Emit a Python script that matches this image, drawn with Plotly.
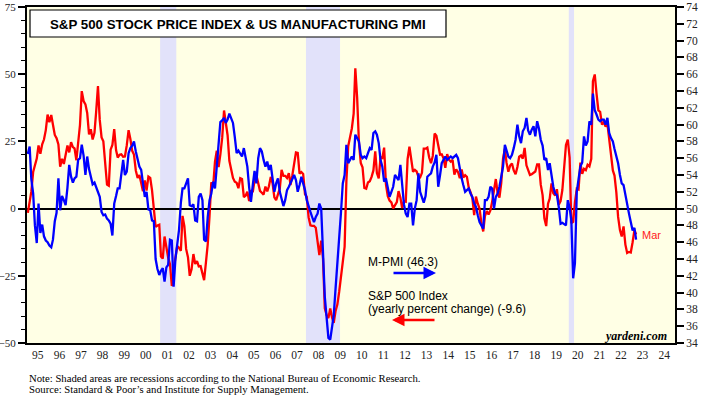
import pandas as pd
import plotly.graph_objects as go

# ---------------- data (monthly, Jan 1995 .. Mar 2023) ----------------
start_month = "1995-01-01"

# S&P 500 Index, yearly percent change (left axis)
sp500_yoy = [
    -1.6, 2.2, 6.3, 13.6, 16.2, 18.6, 23.5, 20.4, 23.9, 25.7, 29.2, 35.0,          # 1995
    32.1, 34.8, 31.2, 27.4, 26.2, 23.9, 15.6, 18.5, 16.6, 20.3, 23.5, 20.9,        # 1996
    24.7, 22.9, 22.4, 18.0, 26.0, 31.1, 43.7, 40.0, 38.8, 35.6, 27.6, 29.5,        # 1997
    25.7, 28.2, 35.9, 45.6, 33.0, 26.5, 25.0, 15.8, 8.9, 8.5, 21.9, 23.7,          # 1998
    29.6, 21.8, 19.0, 20.0, 20.2, 19.3, 19.4, 23.5, 29.2, 25.9, 21.5, 20.1,        # 1999
    14.2, 11.4, 12.5, 9.5, 6.5, 10.5, 6.7, 11.9, 11.4, 6.9, -0.9, -6.8,            # 2000
    -6.3, -6.0, -17.8, -18.6, -10.4, -15.3, -18.2, -20.7, -28.8, -22.6, -18.0, -14.0,  # 2001
    -14.6, -15.7, -2.7, -6.5, -15.0, -18.1, -25.0, -22.6, -16.9, -20.6, -19.5, -21.5,  # 2002
    -21.4, -23.9, -26.6, -20.0, -13.3, -2.6, 9.8, 8.4, 17.5, 21.5, 15.4, 20.2,     # 2003
    26.4, 36.5, 32.8, 27.3, 17.8, 14.7, 11.4, 10.0, 9.6, 7.6, 11.3, 11.0,          # 2004
    4.3, 4.9, 6.3, 2.8, 6.8, 6.1, 10.5, 12.4, 9.7, 6.6, 5.9, 5.2,                  # 2005
    8.2, 6.4, 8.3, 11.8, 9.5, 4.2, 3.1, 5.1, 7.5, 14.4, 12.2, 12.2,                # 2006
    11.4, 13.2, 8.8, 12.4, 17.1, 20.9, 20.7, 13.0, 13.6, 12.9, 5.4, 4.4,           # 2007
    -3.2, -6.2, -6.4, -6.4, -7.1, -11.4, -17.3, -11.9, -18.7, -37.1, -39.7, -40.7,  # 2008
    -37.2, -40.6, -42.5, -38.1, -35.7, -31.0, -25.6, -21.2, -14.2, 10.2, 23.2, 26.5,  # 2009
    29.8, 35.3, 52.2, 41.2, 24.7, 17.0, 15.4, 7.7, 7.4, 9.7, 10.2, 11.8,           # 2010
    14.2, 21.3, 13.2, 11.2, 19.0, 18.8, 22.7, 9.0, 4.6, 3.0, 2.3, 0.1,             # 2011
    1.4, 2.4, 6.5, 4.1, 0.2, 2.8, 2.6, 18.4, 23.0, 19.1, 13.7, 14.4,               # 2012
    13.8, 11.8, 11.6, 13.3, 22.3, 22.3, 22.7, 19.0, 16.9, 19.6, 27.9, 27.1,        # 2013
    23.1, 20.1, 20.2, 18.7, 15.2, 20.3, 18.2, 17.5, 18.1, 12.6, 14.6, 13.6,        # 2014
    11.3, 14.6, 11.6, 12.4, 11.8, 7.8, 6.1, 4.0, -2.4, 4.5, 1.8, 0.0,              # 2015
    -5.4, -8.5, -2.8, -0.9, -2.2, -0.7, 2.6, 6.7, 11.0, 5.8, 4.1, 9.4,             # 2016
    18.6, 22.3, 17.1, 13.7, 16.0, 16.8, 14.2, 12.8, 15.5, 19.3, 19.8, 18.6,        # 2017
    22.6, 16.1, 14.2, 12.5, 12.8, 13.2, 13.8, 16.4, 16.4, 8.9, 5.0, -3.6,          # 2018
    -6.5, 1.8, 3.7, 9.4, 5.7, 4.9, 7.2, 1.4, 2.8, 6.9, 14.0, 23.7,                 # 2019
    25.7, 19.0, -5.4, -4.9, 2.3, 7.4, 7.1, 17.1, 12.9, 14.8, 14.3, 16.3,           # 2020
    15.7, 18.5, 47.4, 49.9, 42.8, 36.5, 36.0, 31.3, 32.1, 30.5, 31.5, 26.5,        # 2021
    20.6, 14.2, 12.3, 6.0, -3.1, -8.0, -10.4, -6.6, -13.4, -16.5, -16.1, -16.3,    # 2022
    -12.5, -8.0, -9.6,                                                             # 2023
]

# US manufacturing PMI (right axis)
mfg_pmi = [
    56.5, 57.4, 53.5, 51.8, 48.0, 45.9, 50.6, 47.1, 48.1, 46.7, 46.2, 46.0,   # 1995
    45.6, 45.4, 46.3, 48.5, 49.5, 53.6, 49.8, 51.5, 51.0, 50.4, 52.5, 55.2,   # 1996
    53.8, 53.1, 53.6, 53.8, 55.8, 56.0, 57.6, 56.3, 54.0, 56.2, 54.7, 53.8,   # 1997
    52.9, 53.1, 52.6, 52.1, 51.4, 49.6, 49.2, 49.3, 48.8, 48.6, 48.2, 46.8,   # 1998
    50.6, 51.5, 52.4, 52.4, 54.3, 55.8, 54.0, 54.4, 56.6, 57.2, 57.5, 58.0,   # 1999
    56.8, 55.8, 55.0, 54.6, 53.2, 51.4, 52.0, 49.9, 49.8, 48.6, 48.5, 44.0,   # 2000
    42.8, 42.1, 42.6, 42.9, 41.3, 43.0, 43.3, 46.3, 46.2, 40.7, 44.0, 45.5,   # 2001
    47.5, 50.7, 52.4, 52.4, 53.1, 53.6, 50.4, 50.3, 50.5, 48.6, 48.5, 51.4,   # 2002
    51.8, 51.0, 46.3, 46.1, 49.0, 51.0, 51.8, 53.2, 52.4, 55.2, 58.4, 60.3,   # 2003
    60.5, 60.8, 60.2, 60.6, 61.3, 60.8, 60.2, 58.5, 56.6, 56.9, 56.6, 56.2,   # 2004
    57.2, 56.2, 55.0, 52.5, 50.8, 52.8, 54.5, 53.0, 56.0, 57.2, 56.8, 55.8,   # 2005
    55.0, 55.6, 54.6, 55.2, 53.6, 52.0, 53.0, 53.6, 52.0, 51.0, 50.3, 51.0,   # 2006
    52.2, 52.6, 53.0, 53.6, 54.0, 53.4, 52.0, 52.8, 53.8, 53.0, 52.2, 51.0,   # 2007
    50.2, 49.6, 49.0, 48.4, 49.0, 49.4, 50.6, 50.0, 44.7, 39.5, 37.0, 34.6,   # 2008
    34.4, 36.3, 37.3, 40.5, 43.5, 45.5, 49.5, 53.0, 54.0, 57.6, 55.4, 55.8,   # 2009
    56.2, 55.8, 58.8, 58.4, 58.0, 56.4, 56.0, 56.2, 56.0, 56.6, 57.2, 57.0,   # 2010
    59.0, 59.2, 58.8, 57.8, 55.8, 55.0, 53.2, 53.6, 52.5, 51.4, 52.0, 52.6,   # 2011
    54.0, 53.6, 53.4, 55.2, 52.6, 50.5, 49.4, 49.0, 50.6, 50.6, 48.0, 50.0,   # 2012
    51.0, 54.2, 52.0, 51.2, 50.7, 51.5, 53.8, 54.0, 54.2, 55.0, 55.5, 56.4,   # 2013
    52.6, 54.0, 55.4, 55.8, 56.2, 55.8, 56.0, 56.2, 56.0, 56.2, 56.4, 56.0,   # 2014
    54.6, 53.6, 52.8, 52.0, 52.2, 52.4, 51.8, 51.4, 50.6, 50.2, 49.2, 48.4,   # 2015
    48.0, 47.6, 51.0, 51.0, 51.4, 52.6, 52.4, 50.0, 51.4, 51.8, 52.6, 54.0,   # 2016
    55.0, 57.6, 57.0, 56.2, 56.0, 56.4, 57.2, 58.2, 60.0, 58.6, 57.8, 59.2,   # 2017
    59.6, 60.8, 59.3, 58.8, 59.4, 59.8, 58.6, 60.4, 59.5, 58.2, 57.5, 55.8,   # 2018
    56.0, 54.6, 55.4, 53.6, 52.6, 51.8, 51.6, 50.2, 48.2, 48.3, 48.1, 48.0,   # 2019
    51.0, 50.1, 48.6, 41.7, 43.5, 52.0, 53.5, 55.0, 55.5, 58.6, 57.5, 58.0,   # 2020
    60.4, 60.0, 63.7, 61.7, 61.2, 60.6, 60.4, 60.6, 60.6, 60.0, 60.8, 59.0,   # 2021
    58.4, 58.0, 57.1, 56.2, 55.4, 54.0, 53.0, 52.8, 51.5, 50.6, 49.4, 48.4,   # 2022
    47.4, 47.7, 46.3,                                                         # 2023
]

# NBER recessions (start, end)
recession_starts = ["2001-03-01", "2007-12-01", "2020-02-01"]
recession_ends = ["2001-11-30", "2009-06-30", "2020-04-30"]

x_range = ["1995-01-01", "2025-01-01"]
left_range = [-50, 75]
right_range = [34, 74]

title_text = "S&P 500 STOCK PRICE INDEX & US MANUFACTURING PMI"
pmi_label = "M-PMI (46.3)"
sp_label_1 = "S&P 500 Index"
sp_label_2 = "(yearly percent change) (-9.6)"
note_1 = "Note: Shaded areas are recessions according to the National Bureau of Economic Research."
note_2 = "Source: Standard & Poor\u2019s and Institute for Supply Management."

# ---------------- figure ----------------
dates = pd.date_range(start=start_month, periods=len(sp500_yoy), freq="MS") + pd.Timedelta(days=14)

SERIF = "Liberation Serif, Times New Roman, serif"
SANS = "Liberation Sans, Arial, sans-serif"

fig = go.Figure()
fig.add_trace(go.Scatter(x=dates, y=sp500_yoy, mode="lines",
                         line=dict(color="#FF0000", width=2.3), yaxis="y",
                         showlegend=False))
fig.add_trace(go.Scatter(x=dates[:len(mfg_pmi)], y=mfg_pmi, mode="lines",
                         line=dict(color="#0000FF", width=2.3), yaxis="y2",
                         showlegend=False))

shapes = []
for s, e in zip(recession_starts, recession_ends):
    shapes.append(dict(type="rect", xref="x", yref="paper", x0=s, x1=e, y0=0, y1=1,
                       fillcolor="#E2E2FA", line=dict(width=0), layer="below"))

# plot area: x 27..675 px, y 7..343 px
L, R, T, B = 27, 675, 7, 343
def px(xp):
    return (xp - L) / (R - L)
def py(yp):
    return (B - yp) / (B - T)

# title box
shapes.append(dict(type="rect", xref="paper", yref="paper",
                   x0=px(30), x1=px(446), y0=py(37), y1=py(10),
                   fillcolor="white", line=dict(color="black", width=1.2), layer="above"))

annotations = [
    dict(text="<b>" + title_text.replace("&", "&amp;") + "</b>", xref="paper", yref="paper",
         x=px(48), y=py(24), xanchor="left", yanchor="middle", showarrow=False,
         font=dict(family=SANS, size=13.3, color="black")),
    dict(text=pmi_label, xref="paper", yref="paper", x=px(366), y=py(262),
         xanchor="left", yanchor="middle", showarrow=False,
         font=dict(family=SANS, size=12, color="black")),
    dict(text="", xref="paper", yref="paper", x=px(436), y=py(273), ax=-44, ay=0,
         showarrow=True, arrowhead=2, arrowsize=1, arrowwidth=2.5, arrowcolor="#0000FF"),
    dict(text=sp_label_1.replace("&", "&amp;"), xref="paper", yref="paper", x=px(366), y=py(296),
         xanchor="left", yanchor="middle", showarrow=False,
         font=dict(family=SANS, size=12, color="black")),
    dict(text=sp_label_2, xref="paper", yref="paper", x=px(366), y=py(309),
         xanchor="left", yanchor="middle", showarrow=False,
         font=dict(family=SANS, size=12, color="black")),
    dict(text="", xref="paper", yref="paper", x=px(392), y=py(320), ax=44, ay=0,
         showarrow=True, arrowhead=2, arrowsize=1, arrowwidth=2.5, arrowcolor="#FF0000"),
    dict(text="Mar", xref="paper", yref="paper", x=px(640), y=py(235),
         xanchor="left", yanchor="middle", showarrow=False,
         font=dict(family=SANS, size=11, color="#FF2020")),
    dict(text="<b><i>yardeni.com</i></b>", xref="paper", yref="paper", x=px(669), y=py(336),
         xanchor="right", yanchor="middle", showarrow=False,
         font=dict(family=SERIF, size=12, color="black")),
    dict(text=note_1, xref="paper", yref="paper", x=0, y=py(378),
         xanchor="left", yanchor="middle", showarrow=False,
         font=dict(family=SERIF, size=10.7, color="black")),
    dict(text=note_2, xref="paper", yref="paper", x=0, y=py(389),
         xanchor="left", yanchor="middle", showarrow=False,
         font=dict(family=SERIF, size=10.7, color="black")),
]

tickfont = dict(family=SERIF, size=11, color="#222")

fig.update_layout(
    width=704, height=396, autosize=False,
    margin=dict(l=L, r=704 - R, t=T, b=396 - B, pad=0),
    paper_bgcolor="white", plot_bgcolor="#FFFFE5",
    shapes=shapes, annotations=annotations,
    showlegend=False,
    xaxis=dict(type="date", range=x_range, dtick="M12", tick0="1995-01-01",
               tickformat="%y", ticklabelmode="period", ticks="", automargin=False,
               minor=dict(ticks="outside", ticklen=9, tickwidth=1.5, tickcolor="black",
                          dtick="M12", tick0="1995-01-01", showgrid=False),
               showgrid=False, zeroline=False, showline=True, linewidth=2,
               linecolor="black", mirror=True, tickfont=dict(family=SERIF, size=11.5, color="#222")),
    yaxis=dict(range=left_range, dtick=25, tick0=-50, ticks="outside", ticklen=7,
               tickwidth=1.5, tickcolor="black", automargin=False,
               minor=dict(ticks="outside", ticklen=4, tickwidth=1, tickcolor="black",
                          dtick=5, showgrid=False),
               showgrid=False, zeroline=True, zerolinecolor="black", zerolinewidth=1.5,
               showline=True, linewidth=2, linecolor="black", mirror=True,
               tickfont=tickfont),
    yaxis2=dict(range=right_range, dtick=2, tick0=34, overlaying="y", side="right",
                ticks="outside", ticklen=7, tickwidth=1.5, tickcolor="black",
                automargin=False,
                showgrid=False, zeroline=False, showline=True, linewidth=2,
                linecolor="black", tickfont=dict(family=SERIF, size=11.5, color="#222")),
)

fig.write_html("out.html", config={"displayModeBar": False},
               post_script="document.body.style.margin='0px';document.body.style.overflow='hidden';")
